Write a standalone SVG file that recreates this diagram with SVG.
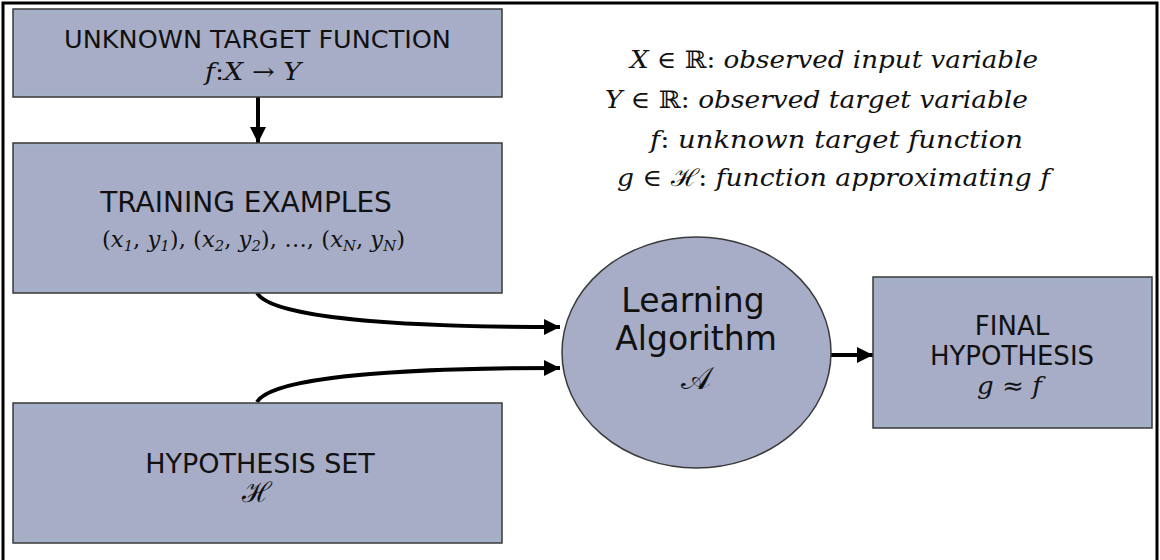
<svg xmlns="http://www.w3.org/2000/svg" width="1160" height="560" viewBox="0 0 1160 560">
<style>
.box{fill:#a8adc7;stroke:#3a3a3a;stroke-width:1.5}
.glow{fill:none;stroke:#9db3c6;stroke-width:4}
.t{font-family:"DejaVu Sans",Verdana,sans-serif;fill:#111;text-anchor:middle}
.m{font-family:"DejaVu Serif","Liberation Serif",serif;font-style:italic;fill:#111}
.mc{text-anchor:middle}
.up{font-style:normal}
.c{fill:none;stroke:#000;stroke-width:4;marker-end:url(#ah)}
</style>
<defs>
<marker id="ah" markerUnits="userSpaceOnUse" markerWidth="18" markerHeight="18" refX="16" refY="8" orient="auto">
<path d="M0,0 L16,8 L0,16 Z" fill="#000"/>
</marker>
</defs>
<rect x="3" y="3" width="1154" height="600" fill="#fff" stroke="#000" stroke-width="3"/>
<g id="connectors">
<path class="c" d="M258,97 L258,143"/>
<path class="c" d="M257,293 C272,318 400,327 560,327"/>
<path class="c" d="M257,402 C272,377 400,368 560,368"/>
<path class="c" d="M831,355 L873,355"/>
</g>
<g id="target">
<rect class="box" x="13" y="9" width="489" height="88"/>
<rect class="glow" x="16" y="12" width="483" height="82" opacity="0.5"/>
<text class="t" x="257.5" y="48" font-size="25.5">UNKNOWN TARGET FUNCTION</text>
<text class="m" x="205" y="80" font-size="24" textLength="96" lengthAdjust="spacingAndGlyphs">f<tspan class="up">:</tspan>X <tspan class="up">→</tspan> Y</text>
</g>
<g id="training">
<rect class="box" x="13" y="143" width="489" height="150"/>
<rect class="glow" x="16" y="146" width="483" height="144" opacity="0.5"/>
<text class="t" x="246" y="212" font-size="28">TRAINING EXAMPLES</text>
<text class="m" x="102" y="247" font-size="23" textLength="303" lengthAdjust="spacingAndGlyphs"><tspan class="up">(</tspan>x<tspan font-size="15" dy="4">1</tspan><tspan class="up" dy="-4">, </tspan>y<tspan font-size="15" dy="4">1</tspan><tspan class="up" dy="-4">), (</tspan>x<tspan font-size="15" dy="4">2</tspan><tspan class="up" dy="-4">, </tspan>y<tspan font-size="15" dy="4">2</tspan><tspan class="up" dy="-4">), …, (</tspan>x<tspan font-size="15" dy="4">N</tspan><tspan class="up" dy="-4">, </tspan>y<tspan font-size="15" dy="4">N</tspan><tspan class="up" dy="-4">)</tspan></text>
</g>
<g id="hypset">
<rect class="box" x="13" y="403" width="489" height="140"/>
<rect class="glow" x="16" y="406" width="483" height="134" opacity="0.5"/>
<text class="t" x="260" y="473" font-size="27">HYPOTHESIS SET</text>
<text class="m mc up" x="257" y="502" font-size="28" font-family="DejaVu Sans">ℋ</text>
</g>
<g id="learning">
<ellipse cx="696.5" cy="352.5" rx="134.5" ry="115.5" fill="#a8adc7" stroke="#3a3a3a" stroke-width="1.5"/>
<text class="t" x="693" y="312" font-size="33">Learning</text>
<text class="t" x="696" y="350" font-size="33">Algorithm</text>
<text class="m mc up" x="696" y="389" font-size="32" font-family="DejaVu Sans">𝒜</text>
</g>
<g id="final">
<rect class="box" x="873" y="277" width="279" height="151"/>
<rect class="glow" x="876" y="280" width="273" height="145" opacity="0.5"/>
<text class="t" x="1012" y="335" font-size="26">FINAL</text>
<text class="t" x="1012" y="365" font-size="26">HYPOTHESIS</text>
<text class="m" x="977" y="394" font-size="24" textLength="65" lengthAdjust="spacingAndGlyphs">g <tspan class="up">≈</tspan> f</text>
</g>
<g id="legend" class="m" font-size="24">
<text x="630" y="68" textLength="408" lengthAdjust="spacingAndGlyphs">X <tspan class="up">∈ ℝ:</tspan> observed input variable</text>
<text x="605" y="108" textLength="423" lengthAdjust="spacingAndGlyphs">Y <tspan class="up">∈ ℝ:</tspan> observed target variable</text>
<text x="650" y="148" textLength="373" lengthAdjust="spacingAndGlyphs">f<tspan class="up">:</tspan> unknown target function</text>
<text x="617" y="186" textLength="433" lengthAdjust="spacingAndGlyphs">g <tspan class="up">∈ ℋ:</tspan> function approximating f</text>
</g>
</svg>
